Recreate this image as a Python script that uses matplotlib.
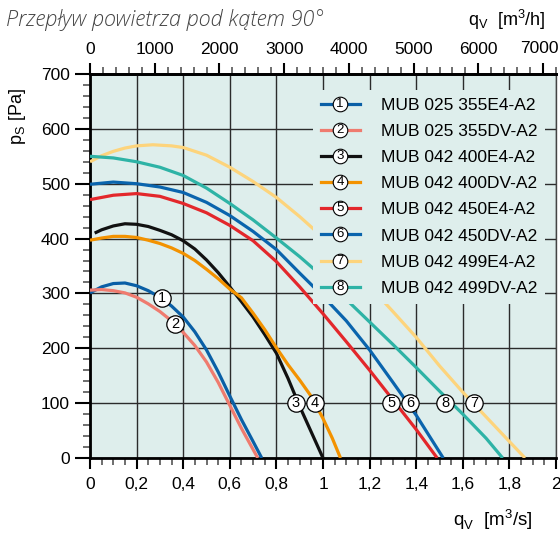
# -*- coding: utf-8 -*-
import matplotlib
matplotlib.use("Agg")
import matplotlib.pyplot as plt
from matplotlib.lines import Line2D
from matplotlib.text import Text
from matplotlib.legend_handler import HandlerLine2D
from matplotlib.ticker import MultipleLocator, FuncFormatter

plt.rcParams['font.family'] = ['Liberation Sans', 'DejaVu Sans']

### Couleurs
bg = '#deeeec'
colors = ['#0a5fa6', '#ef7b6f', '#111111', '#f39200', '#e3272b',
          '#0a64ad', '#fdd47c', '#2eb3a6']

### Donnees (q en m3/s, p en Pa)
names = ['MUB 025 355E4-A2', 'MUB 025 355DV-A2', 'MUB 042 400E4-A2',
         'MUB 042 400DV-A2', 'MUB 042 450E4-A2', 'MUB 042 450DV-A2',
         'MUB 042 499E4-A2', 'MUB 042 499DV-A2']

q1 = [0, 0.05, 0.1, 0.15, 0.2, 0.25, 0.3, 0.35, 0.4, 0.45, 0.5, 0.55, 0.6, 0.65, 0.7, 0.737]
p1 = [301, 312, 318, 319, 314, 305, 293, 277, 257, 230, 197, 157, 113, 70, 30, 0]

q2 = [0, 0.05, 0.1, 0.15, 0.2, 0.25, 0.3, 0.35, 0.4, 0.45, 0.5, 0.55, 0.6, 0.65, 0.72]
p2 = [306, 307, 305, 301, 293, 281, 267, 250, 229, 205, 175, 138, 96, 54, 0]

q3 = [0.02, 0.05, 0.1, 0.15, 0.2, 0.25, 0.3, 0.35, 0.4, 0.45, 0.5, 0.55, 0.6, 0.65,
      0.7, 0.75, 0.8, 0.85, 0.9, 0.95, 1.0]
p3 = [410, 416, 423, 427, 426, 422, 415, 407, 396, 381, 361, 338, 312, 285,
      257, 225, 191, 145, 94, 47, 0]

q4 = [0, 0.05, 0.1, 0.15, 0.2, 0.25, 0.3, 0.35, 0.4, 0.45, 0.5, 0.55, 0.6, 0.65,
      0.7, 0.75, 0.8, 0.85, 0.9, 0.95, 1.0, 1.04, 1.075]
p4 = [397, 401, 404, 404, 402, 397, 391, 383, 373, 360, 344, 327, 308, 292,
      264, 234, 201, 170, 142, 112, 72, 36, 0]

q5 = [0, 0.1, 0.2, 0.3, 0.4, 0.5, 0.6, 0.7, 0.8, 0.9, 1.0, 1.1, 1.2, 1.3, 1.4, 1.49]
p5 = [471, 479, 482, 477, 464, 447, 424, 396, 358, 312, 263, 212, 160, 106, 52, 0]

q6 = [0, 0.1, 0.2, 0.3, 0.4, 0.5, 0.6, 0.7, 0.8, 0.9, 1.0, 1.1, 1.2, 1.3, 1.4, 1.516]
p6 = [499, 503, 500, 494, 484, 466, 442, 413, 380, 337, 295, 250, 197, 138, 78, 0]

q7 = [0, 0.05, 0.1, 0.15, 0.2, 0.27, 0.35, 0.4, 0.5, 0.6, 0.7, 0.8, 0.9, 1.0,
      1.1, 1.2, 1.3, 1.4, 1.5, 1.6, 1.7, 1.8, 1.867]
p7 = [540, 551, 559, 565, 569, 571, 569, 566, 552, 530, 504, 475, 440, 402,
      358, 313, 267, 220, 168, 120, 75, 30, 0]

q8 = [0, 0.1, 0.2, 0.3, 0.4, 0.5, 0.6, 0.7, 0.8, 0.9, 1.0, 1.1, 1.2, 1.3,
      1.4, 1.5, 1.6, 1.7, 1.771]
p8 = [550, 547, 540, 530, 515, 492, 464, 434, 401, 367, 330, 289, 248, 207,
      165, 122, 80, 36, 0]

curves = [(q1, p1), (q2, p2), (q3, p3), (q4, p4), (q5, p5), (q6, p6), (q7, p7), (q8, p8)]

# reperes numerotes sur les courbes
label_num = ['1', '2', '3', '4', '5', '6', '8', '7']
label_q = [0.309, 0.365, 0.884, 0.966, 1.292, 1.373, 1.524, 1.648]
label_p = [292, 244, 100, 100, 100, 100, 100, 100]

x_ticks = [0, 0.2, 0.4, 0.6, 0.8, 1.0, 1.2, 1.4, 1.6, 1.8, 2.0]
y_ticks = [0, 100, 200, 300, 400, 500, 600, 700]
top_ticks = [0, 1000, 2000, 3000, 4000, 5000, 6000, 7000]


### Legende : ligne + cercle numerote
class CircledNumber(HandlerLine2D):
    def __init__(self, num, **kw):
        super().__init__(**kw)
        self.num = num

    def create_artists(self, legend, orig_handle, xdescent, ydescent,
                       width, height, fontsize, trans):
        arts = super().create_artists(legend, orig_handle, xdescent, ydescent,
                                      width, height, fontsize, trans)
        t = Text(-xdescent + width / 2, height / 2 - ydescent, self.num,
                 ha='center', va='center', fontsize=9.5, transform=trans)
        return arts + [t]


### Figure
fig = plt.figure(figsize=(5.6, 5.35), dpi=100)
ax = fig.add_axes([90 / 560, 77 / 535, 466 / 560, 384 / 535])
ax.set_facecolor(bg)

for (q, p), c in zip(curves, colors):
    ax.plot(q, p, color=c, lw=2.3, solid_capstyle='butt', solid_joinstyle='round', zorder=3)

ax.plot(label_q, label_p, 'o', ms=12.5, mfc='white', mec='black', mew=0.9, zorder=6)
for n, q, p in zip(label_num, label_q, label_p):
    ax.text(q, p, n, ha='center', va='center', fontsize=10.5, zorder=7)

ax.set_xlim(0, 2)
ax.set_ylim(0, 700)
ax.set_xticks(x_ticks)
ax.set_yticks(y_ticks)
ax.xaxis.set_minor_locator(MultipleLocator(0.05))
ax.yaxis.set_minor_locator(MultipleLocator(20))
ax.xaxis.set_major_formatter(FuncFormatter(lambda v, _: f"{v:g}".replace('.', ',')))
ax.tick_params(which='major', length=8, width=1.5, labelsize=12.5, color='black')
ax.tick_params(axis='x', which='major', pad=6)
ax.tick_params(axis='y', which='major', length=11, pad=3.5)
ax.tick_params(which='minor', length=5, width=1.2, color='#555555')
ax.grid(True, which='major', color='#2b2b2b', lw=1.0, zorder=1)
ax.set_axisbelow(True)

for s in ['left', 'bottom', 'top']:
    ax.spines[s].set_linewidth(2)
ax.spines['right'].set_linewidth(1)
ax.spines['right'].set_color('#444444')

# axe du haut en m3/h (le dernier libelle est decale pour rester dans l'image)
secax = ax.secondary_xaxis('top', functions=(lambda x: x * 3600, lambda x: x / 3600))
secax.set_xticks(top_ticks)
secax.xaxis.set_major_formatter(FuncFormatter(lambda v, _: '' if v == top_ticks[-1] else f"{v:g}"))
secax.xaxis.set_minor_locator(MultipleLocator(200))
secax.tick_params(which='major', length=8, width=1.5, labelsize=12.5, pad=4)
secax.tick_params(which='minor', length=5, width=1.2, color='#555555')
secax.spines['top'].set_linewidth(2)
ax.annotate(str(top_ticks[-1]), xy=(top_ticks[-1] / 3600, 1), xycoords=('data', 'axes fraction'),
            xytext=(-2.5, 13.2), textcoords='offset points', ha='center', va='bottom',
            fontsize=12.5, annotation_clip=False)

handles = [Line2D([], [], color=c, lw=2.3, marker='o', ms=10.5, mfc='white',
                  mec='black', mew=0.8) for c in colors]
hmap = {h: CircledNumber(str(i + 1)) for i, h in enumerate(handles)}
leg = ax.legend(handles, names, handler_map=hmap, loc='upper right',
                bbox_to_anchor=(0.976, 0.958), borderaxespad=0, numpoints=1,
                frameon=True, facecolor=bg, edgecolor='none', framealpha=1,
                fancybox=False, fontsize=12.5, handlelength=2.25,
                handletextpad=1.2, labelspacing=0.63, borderpad=0.45)
leg.set_zorder(5)

### Textes
fig.text(6 / 560, 1 - 20 / 535, 'Przepływ powietrza pod kątem 90°', ha='left', va='center',
         fontsize=15.6, style='italic', color='#444444',
         family=['Open Sans', 'DejaVu Sans'], weight='light')
fig.text(17 / 560, 1 - 117 / 535, r'p$_\mathregular{S}$ [Pa]', rotation=90,
         ha='center', va='center', fontsize=13)
fig.text(533 / 560, 1 - 520 / 535, r'q$_\mathregular{V}$  [m$^\mathregular{3}$/s]',
         ha='right', va='center', fontsize=13.5)
fig.text(546 / 560, 1 - 20 / 535, r'q$_\mathregular{V}$  [m$^\mathregular{3}$/h]',
         ha='right', va='center', fontsize=13)

fig.savefig('out.png', dpi=100, facecolor='white')
